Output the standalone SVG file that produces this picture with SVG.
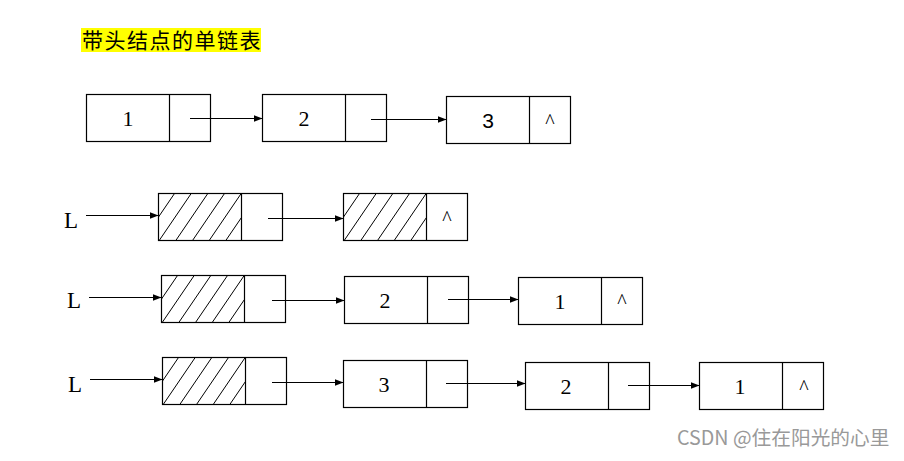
<svg xmlns="http://www.w3.org/2000/svg" xmlns:xlink="http://www.w3.org/1999/xlink" width="904" height="461" viewBox="0 0 904 461">
<style>
.box{fill:#fff;stroke:#000;stroke-width:1.2}
.div{stroke:#000;stroke-width:1.2}
.hl{stroke:#000;stroke-width:1}
.num{font-family:"Liberation Serif",serif;font-size:22px;fill:#000;text-anchor:middle}
.sans{font-family:"Liberation Sans",sans-serif;font-size:21px;fill:#000;text-anchor:middle}
.caret{font-family:"Liberation Serif",serif;font-size:20px;fill:#000;text-anchor:middle}
.lbl{font-family:"Liberation Serif",serif;font-size:23px;fill:#000}
.conn{stroke:#000;stroke-width:1.2;fill:none;marker-end:url(#ah)}
</style>
<defs>
<marker id="ah" markerUnits="userSpaceOnUse" markerWidth="9" markerHeight="7" refX="9" refY="3.5" orient="auto">
<path d="M0,0 L9,3.5 L0,7 z" fill="#000"/>
</marker>
<clipPath id="hc" clipPathUnits="userSpaceOnUse"><rect x="0" y="0" width="83" height="47"/></clipPath>
<g id="hatch" clip-path="url(#hc)">
<line class="hl" x1="16" y1="0" x2="-16" y2="47"/>
<line class="hl" x1="32.7" y1="0" x2="0.7" y2="47"/>
<line class="hl" x1="49.3" y1="0" x2="17.3" y2="47"/>
<line class="hl" x1="66" y1="0" x2="34" y2="47"/>
<line class="hl" x1="82.7" y1="0" x2="50.7" y2="47"/>
<line class="hl" x1="99.3" y1="0" x2="67.3" y2="47"/>
</g>
</defs>
<rect width="904" height="461" fill="#fff"/>

<g id="title">
<rect x="81" y="28" width="180" height="24" fill="#ffff00"/>
<text x="82" y="47.5" font-family="'Noto Sans CJK SC',sans-serif" font-size="21" letter-spacing="1.5" fill="#000">带头结点的单链表</text>
</g>

<!-- Row 1 -->
<g id="r1n1">
<rect class="box" x="86.5" y="94.5" width="124" height="47"/>
<line class="div" x1="169.5" y1="94.5" x2="169.5" y2="141.5"/>
<text class="num" x="128" y="126">1</text>
</g>
<g id="r1n2">
<rect class="box" x="262.5" y="94.5" width="124" height="47"/>
<line class="div" x1="345.5" y1="94.5" x2="345.5" y2="141.5"/>
<text class="num" x="304" y="126">2</text>
</g>
<g id="r1n3">
<rect class="box" x="446.5" y="96.5" width="124" height="47"/>
<line class="div" x1="529.5" y1="96.5" x2="529.5" y2="143.5"/>
<text class="sans" x="488" y="127.5">3</text>
<text class="caret" x="550" y="128">^</text>
</g>

<!-- Row 2 -->
<g id="r2L"><text class="lbl" x="64" y="228">L</text></g>
<g id="r2n1">
<rect class="box" x="158.5" y="193.5" width="124" height="47"/>
<use xlink:href="#hatch" href="#hatch" transform="translate(158.5,193.5)"/>
<line class="div" x1="241.5" y1="193.5" x2="241.5" y2="240.5"/>
</g>
<g id="r2n2">
<rect class="box" x="343.5" y="193.5" width="124" height="47"/>
<use xlink:href="#hatch" href="#hatch" transform="translate(343.5,193.5)"/>
<line class="div" x1="426.5" y1="193.5" x2="426.5" y2="240.5"/>
<text class="caret" x="447" y="224.5">^</text>
</g>

<!-- Row 3 -->
<g id="r3L"><text class="lbl" x="67" y="308">L</text></g>
<g id="r3n1">
<rect class="box" x="161.5" y="275.5" width="124" height="47"/>
<use xlink:href="#hatch" href="#hatch" transform="translate(161.5,275.5)"/>
<line class="div" x1="244.5" y1="275.5" x2="244.5" y2="322.5"/>
</g>
<g id="r3n2">
<rect class="box" x="344.5" y="276.5" width="124" height="47"/>
<line class="div" x1="427.5" y1="276.5" x2="427.5" y2="323.5"/>
<text class="num" x="385" y="307.5">2</text>
</g>
<g id="r3n3">
<rect class="box" x="518.5" y="277.5" width="124" height="47"/>
<line class="div" x1="601.5" y1="277.5" x2="601.5" y2="324.5"/>
<text class="num" x="560" y="309">1</text>
<text class="caret" x="622" y="307.5">^</text>
</g>

<!-- Row 4 -->
<g id="r4L"><text class="lbl" x="68" y="391.5">L</text></g>
<g id="r4n1">
<rect class="box" x="162.5" y="357.5" width="124" height="47"/>
<use xlink:href="#hatch" href="#hatch" transform="translate(162.5,357.5)"/>
<line class="div" x1="245.5" y1="357.5" x2="245.5" y2="404.5"/>
</g>
<g id="r4n2">
<rect class="box" x="343.5" y="360.5" width="124" height="47"/>
<line class="div" x1="426.5" y1="360.5" x2="426.5" y2="407.5"/>
<text class="num" x="384" y="391.5">3</text>
</g>
<g id="r4n3">
<rect class="box" x="525.5" y="362.5" width="124" height="47"/>
<line class="div" x1="608.5" y1="362.5" x2="608.5" y2="409.5"/>
<text class="num" x="566" y="393.5">2</text>
</g>
<g id="r4n4">
<rect class="box" x="699.5" y="362.5" width="124" height="47"/>
<line class="div" x1="782.5" y1="362.5" x2="782.5" y2="409.5"/>
<text class="num" x="740" y="394">1</text>
<text class="caret" x="804" y="393.5">^</text>
</g>

<g id="connectors">
<line class="conn" x1="190" y1="118.5" x2="262.5" y2="118.5"/>
<line class="conn" x1="371" y1="119.5" x2="446.5" y2="119.5"/>
<line class="conn" x1="86" y1="215.5" x2="158.5" y2="215.5"/>
<line class="conn" x1="268" y1="218.5" x2="343.5" y2="218.5"/>
<line class="conn" x1="89" y1="297.5" x2="161.5" y2="297.5"/>
<line class="conn" x1="272" y1="300.5" x2="344.5" y2="300.5"/>
<line class="conn" x1="448" y1="299.5" x2="518.5" y2="299.5"/>
<line class="conn" x1="90" y1="379.5" x2="162.5" y2="379.5"/>
<line class="conn" x1="272" y1="382.5" x2="343.5" y2="382.5"/>
<line class="conn" x1="446" y1="383.5" x2="525.5" y2="383.5"/>
<line class="conn" x1="628" y1="385.5" x2="699.5" y2="385.5"/>
</g>

<g id="watermark">
<text x="677" y="445" font-family="'Noto Sans CJK SC',sans-serif" font-size="19.7" fill="#999">CSDN @住在阳光的心里</text>
</g>
</svg>
